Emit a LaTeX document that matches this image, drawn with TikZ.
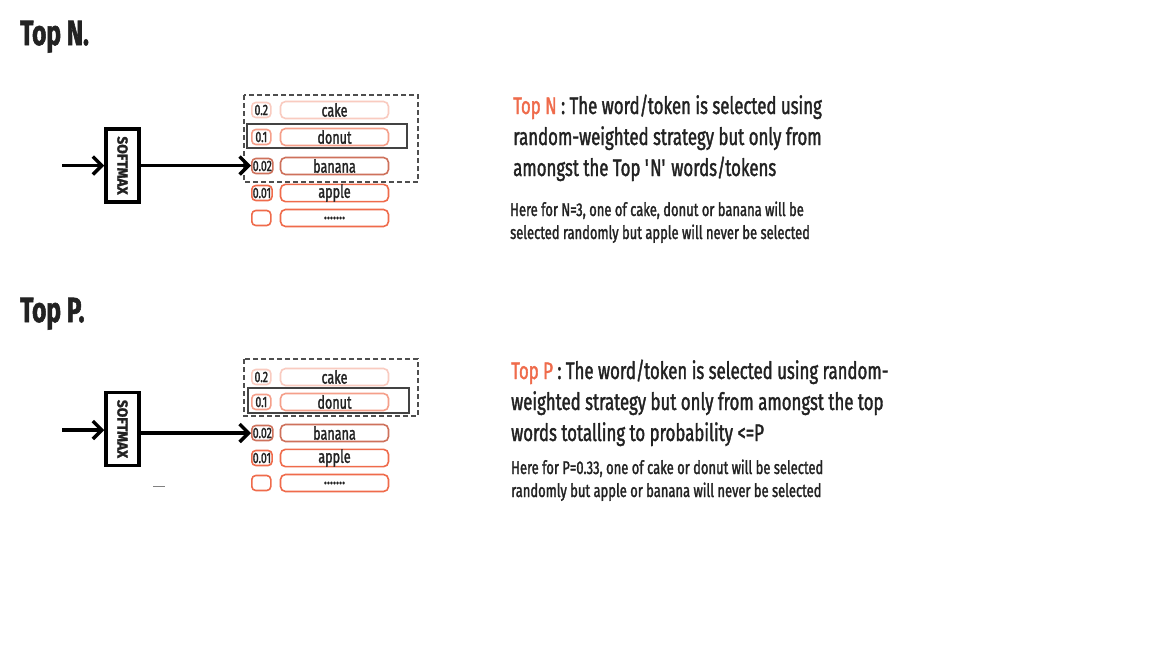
\documentclass[tikz,border=0pt]{standalone}
\usepackage{fontspec}
\setmainfont{Fira Sans}[FakeStretch=0.7, FakeBold=1.5]
\newfontfamily\boxfont{Fira Sans}[FakeStretch=0.95, FakeBold=1.5]
\usetikzlibrary{arrows.meta,positioning}
\definecolor{tokred}{HTML}{EF6B4B}
\definecolor{ink}{HTML}{222222}
\newcommand{\tokdots}{.......}

\begin{document}
\begin{tikzpicture}[x=1pt, y=-1pt,
    every node/.style={text=ink},
    heading/.style={anchor=base west, inner sep=0pt, font=\fontsize{35}{35}\selectfont\bfseries},
    softbox/.style={draw=black, line width=3.5pt, rotate=-90, minimum width=73pt,
        minimum height=33pt, inner sep=0pt, font=\boxfont\fontsize{14.5}{14.5}\selectfont\bfseries},
    probbox/.style={draw, anchor=west, rounded corners=4pt, line width=1.6pt,
        minimum width=19pt, minimum height=15pt, inner sep=1pt, font=\fontsize{15}{15}\selectfont},
    wordbox/.style={draw, rounded corners=5pt, line width=1.6pt, minimum width=108pt,
        minimum height=17pt, inner sep=0pt, font=\fontsize{18}{18}\selectfont},
    flow/.style={-{Straight Barb[length=9pt,width=18pt]}, line width=3.5pt},
    explain/.style={anchor=base west, inner sep=0pt, align=left, font=\fontsize{24}{31}\selectfont},
    example/.style={anchor=base west, inner sep=0pt, align=left, font=\fontsize{18.5}{23}\selectfont}
]
    % Canvas
    \fill[white] (0,0) rectangle (1152,648);
    \useasboundingbox (0,0) rectangle (1152,648);

    % ---------------- Top N ----------------
    \node[heading] (titleN) at (20,45) {Top N.};
    \coordinate (inN) at (62,165.5);
    \node[softbox] (smaxN) at (122.5,165.5) {SOFTMAX};

    % Token rows
    \foreach \y/\p/\w/\c [count=\i] in {110/0.2/cake/tokred!35, 137/0.1/donut/tokred!65,
        166/0.02/banana/tokred!70!gray, 193/0.01/apple/tokred, 218//{\tokdots}/tokred} {
        \node[probbox, draw=\c] (probN\i) at (251,\y) {\p};
        \node[wordbox, draw=\c] (wordN\i) at (334.5,\y) {\w};
    }

    % Selection boxes
    \draw[ink!80, line width=1.2pt, dash pattern=on 5pt off 3pt] (244,95) rectangle (418,182);
    \draw[ink!85, line width=1.2pt] (247,124) rectangle (407,148);

    % Arrows
    \draw[flow] (inN) -- (smaxN.south);
    \draw[flow] (smaxN.north) -- (smaxN.north -| probN3.west);

    \node[explain] (descN) at (513,176)
        {\textcolor{tokred}{Top N} : The word/token is selected using\\
         random-weighted strategy but only from\\
         amongst the Top \textquotesingle N\textquotesingle{} words/tokens};
    \node[example] (noteN) at (510,239)
        {Here for N=3, one of cake, donut or banana will be\\
         selected randomly but apple will never be selected};

    % ---------------- Top P ----------------
    \node[heading] (titleP) at (20,322) {Top P.};
    \coordinate (inP) at (62,430);
    \node[softbox] (smaxP) at (122.5,429) {SOFTMAX};

    % Token rows
    \foreach \y/\p/\w/\c [count=\i] in {377/0.2/cake/tokred!35, 402/0.1/donut/tokred!65,
        433/0.02/banana/tokred!70!gray, 458/0.01/apple/tokred, 483//{\tokdots}/tokred} {
        \node[probbox, draw=\c] (probP\i) at (251,\y) {\p};
        \node[wordbox, draw=\c] (wordP\i) at (334.5,\y) {\w};
    }

    % Selection boxes
    \draw[ink!80, line width=1.2pt, dash pattern=on 5pt off 3pt] (244,359) rectangle (418,416);
    \draw[ink!85, line width=1.2pt] (248,388) rectangle (409,413);

    % Arrows
    \draw[flow] (inP) -- (inP -| smaxP.south);
    \draw[flow] (smaxP.north |- probP3.west) -- (probP3.west);
    \draw[gray, line width=1pt] (153,486) -- (165,486);

    \node[explain] (descP) at (511,441)
        {\textcolor{tokred}{Top P} : The word/token is selected using random-\\
         weighted strategy but only from amongst the top\\
         words totalling to probability <=P};
    \node[example] (noteP) at (511,497)
        {Here for P=0.33, one of cake or donut will be selected\\
         randomly but apple or banana will never be selected};
\end{tikzpicture}
\end{document}
